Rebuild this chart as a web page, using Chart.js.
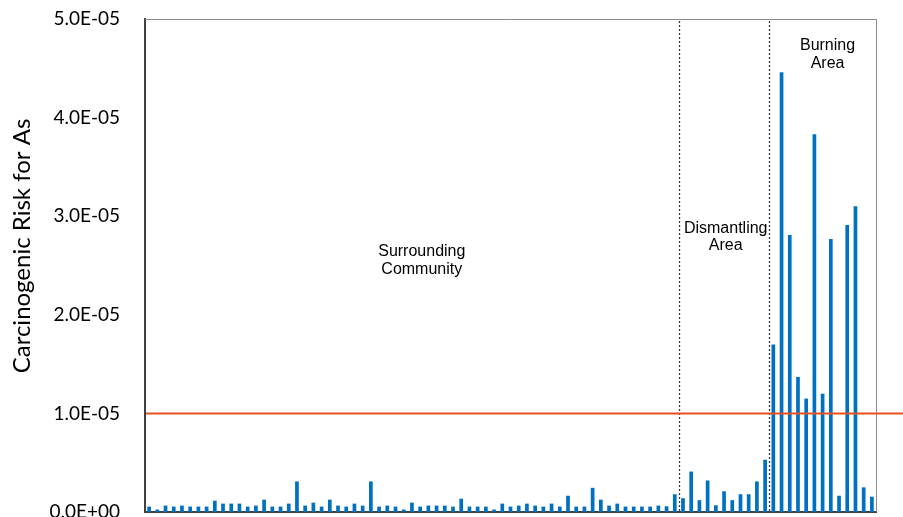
<!DOCTYPE html>
<html>
<head>
<meta charset="utf-8">
<script src="https://cdn.jsdelivr.net/npm/chart.js@4"></script>
<style>
  html, body { margin: 0; padding: 0; overflow: hidden; background: #fff; }
  canvas { display: block; }
</style>
</head>
<body>
<canvas id="riskChart" width="903" height="530"></canvas>
<script>
// Carcinogenic risk for arsenic, one bar per sampling site
const surrounding = [
  5.5e-7, 2.5e-7, 6.5e-7, 5.5e-7, 6.5e-7, 5.5e-7, 5.5e-7, 5.5e-7, 1.15e-6, 8.5e-7,
  8.5e-7, 8.5e-7, 5.5e-7, 6.5e-7, 1.25e-6, 5.5e-7, 5.5e-7, 8.5e-7, 3.1e-6, 6.5e-7,
  9.5e-7, 5.5e-7, 1.25e-6, 6.5e-7, 5.5e-7, 8.5e-7, 6.5e-7, 3.1e-6, 5.5e-7, 6.5e-7,
  5.5e-7, 2.5e-7, 9.5e-7, 5.5e-7, 6.5e-7, 6.5e-7, 6.5e-7, 5.5e-7, 1.35e-6, 5.5e-7,
  5.5e-7, 5.5e-7, 2.5e-7, 8.5e-7, 5.5e-7, 6.5e-7, 8.5e-7, 6.5e-7, 5.5e-7, 8.5e-7,
  5.5e-7, 1.65e-6, 5.5e-7, 5.5e-7, 2.45e-6, 1.25e-6, 6.5e-7, 8.5e-7, 5.5e-7, 5.5e-7,
  5.5e-7, 5.5e-7, 6.5e-7, 5.8e-7, 1.8e-6
];
const dismantling = [
  1.4e-6, 4.1e-6, 1.2e-6, 3.2e-6, 6.8e-7, 2.1e-6, 1.2e-6, 1.8e-6, 1.8e-6, 3.1e-6, 5.3e-6
];
const burning = [
  1.70e-5, 4.46e-5, 2.81e-5, 1.37e-5, 1.15e-5, 3.83e-5, 1.20e-5, 2.77e-5, 1.65e-6,
  2.91e-5, 3.10e-5, 2.5e-6, 1.55e-6
];

const groupNames = [
  ['Surrounding', 'Community'],
  ['Dismantling', 'Area'],
  ['Burning', 'Area']
];
const yTickValues = [0, 1e-5, 2e-5, 3e-5, 4e-5, 5e-5];
const yTickLabels = ['0.0E+00', '1.0E-05', '2.0E-05', '3.0E-05', '4.0E-05', '5.0E-05'];
const riskThreshold = 1e-5;
const yTitle = 'Carcinogenic Risk for As';

// site ids per zone
const siteLabels = [
  ...surrounding.map((_, i) => 'S' + (i + 1)),
  ...dismantling.map((_, i) => 'D' + (i + 1)),
  ...burning.map((_, i) => 'B' + (i + 1))
];
const riskValues = [...surrounding, ...dismantling, ...burning];
const groupSizes = [surrounding.length, dismantling.length, burning.length];

// frame, zone separators, threshold line, zone captions and axis title
const decorations = {
  id: 'decorations',
  beforeDatasetsDraw(chart) {
    const { ctx, chartArea: a } = chart;
    ctx.save();
    ctx.strokeStyle = '#8c8c8c';
    ctx.lineWidth = 1;
    ctx.beginPath();
    ctx.moveTo(a.left, a.top + 0.5);
    ctx.lineTo(a.right + 0.5, a.top + 0.5);
    ctx.lineTo(a.right + 0.5, a.bottom);
    ctx.stroke();
    ctx.restore();
  },
  afterDatasetsDraw(chart) {
    const { ctx, chartArea: a, scales: { x, y } } = chart;
    ctx.save();

    // dotted separators between zones
    ctx.strokeStyle = '#3a3a3a';
    ctx.lineWidth = 1.3;
    ctx.setLineDash([2, 2]);
    let start = 0;
    for (let g = 0; g < groupSizes.length - 1; g++) {
      const last = start + groupSizes[g] - 1;
      const px = Math.round((x.getPixelForValue(last) + x.getPixelForValue(last + 1)) / 2) + 0.5;
      ctx.beginPath();
      ctx.moveTo(px, a.top + 2);
      ctx.lineTo(px, a.bottom);
      ctx.stroke();
      start += groupSizes[g];
    }
    ctx.setLineDash([]);

    // threshold line
    const ty = y.getPixelForValue(riskThreshold);
    ctx.strokeStyle = '#E8501E';
    ctx.lineWidth = 2;
    ctx.beginPath();
    ctx.moveTo(a.left + 1, ty);
    ctx.lineTo(chart.width, ty);
    ctx.stroke();

    // zone captions, anchored in category / value units
    const captionX = [33.2, 70.2, 82.6];
    const captionY = [2.55e-5, 2.79e-5, 4.64e-5];
    ctx.fillStyle = '#000';
    ctx.font = '16px "Liberation Sans", Arial, sans-serif';
    ctx.textAlign = 'center';
    ctx.textBaseline = 'middle';
    groupNames.forEach((lines, g) => {
      const cx = x.getPixelForValue(captionX[g]);
      const cy = y.getPixelForValue(captionY[g]);
      lines.forEach((t, k) => ctx.fillText(t, cx, cy + (k - (lines.length - 1) / 2) * 17.5));
    });

    // y axis title
    ctx.font = '24px Lato, sans-serif';
    ctx.translate(22, 246);
    ctx.rotate(-Math.PI / 2);
    ctx.fillText(yTitle, 0, 0);
    ctx.restore();
  }
};

new Chart(document.getElementById('riskChart'), {
  type: 'bar',
  data: {
    labels: siteLabels,
    datasets: [{
      data: riskValues,
      backgroundColor: '#0070C0',
      borderWidth: 0,
      barPercentage: 0.45,
      categoryPercentage: 1.0
    }]
  },
  options: {
    responsive: false,
    animation: false,
    devicePixelRatio: 1,
    layout: { padding: { left: 0, top: 19, right: 27, bottom: 18 } },
    plugins: { legend: { display: false }, tooltip: { enabled: false } },
    scales: {
      x: {
        offset: true,
        ticks: { display: false },
        grid: { display: false, drawTicks: false },
        border: { display: true, color: '#404040', width: 2 },
        afterFit: s => { s.height = 0; s.paddingLeft = 0; s.paddingRight = 0; }
      },
      y: {
        min: 0,
        max: 5e-5,
        afterBuildTicks: s => { s.ticks = yTickValues.map(v => ({ value: v })); },
        ticks: {
          padding: 25,
          color: '#000',
          font: { family: 'Lato', size: 19 },
          callback: (v, i) => yTickLabels[i]
        },
        grid: { display: false, drawTicks: false },
        border: { display: true, color: '#404040', width: 2 },
        afterFit: s => { s.width = 145; s.paddingTop = 0; s.paddingBottom = 0; }
      }
    }
  },
  plugins: [decorations]
});
</script>
</body>
</html>
